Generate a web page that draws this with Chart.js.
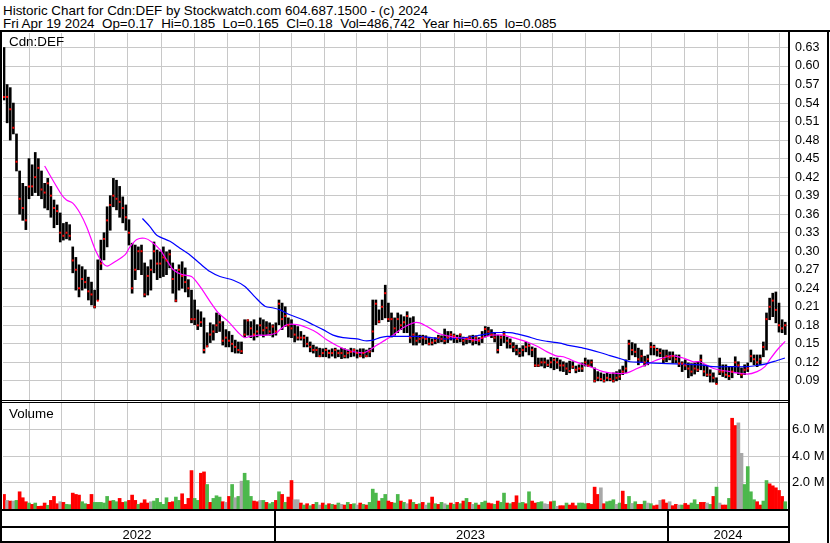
<!DOCTYPE html>
<html>
<head>
<meta charset="utf-8">
<script src="https://cdn.jsdelivr.net/npm/chart.js@4.4.1/dist/chart.umd.min.js"></script>
<style>
  body { margin: 0; background: #fff; font-family: "Liberation Sans", Arial, sans-serif; }
  #wrap { position: relative; width: 830px; height: 543px; overflow: hidden; background: #fff; }
  .ln { position: absolute; background: #000; }
  .txt { position: absolute; white-space: pre; color: #000; font-size: 13.4px; line-height: 13px; }
  .box { position: absolute; left: 0; width: 829px; }
</style>
</head>
<body>
<div id="wrap">
  <div class="txt" style="left:3px; top:4px;">Historic Chart for Cdn:DEF by Stockwatch.com 604.687.1500 - (c) 2024
Fri Apr 19 2024  Op=0.17  Hi=0.185  Lo=0.165  Cl=0.18  Vol=486,742  Year hi=0.65  lo=0.085</div>
  <div class="box" style="top:33px; height:367px;"><canvas id="priceChart"></canvas></div>
  <div class="box" style="top:403px; height:140px;"><canvas id="volChart"></canvas></div>
  <div class="txt" style="left:9px; top:35px; line-height:14px;">Cdn:DEF</div>
  <div class="txt" style="left:9px; top:407px; line-height:14px;">Volume</div>
  <div class="ln" style="left:0; top:30px; width:830px; height:2px;"></div>
  <div class="ln" style="left:0; top:30px; width:2px; height:513px;"></div>
  <div class="ln" style="left:788px; top:30px; width:2px; height:513px;"></div>
  <div class="ln" style="left:827px; top:30px; width:2px; height:513px;"></div>
  <div class="ln" style="left:0; top:400px; width:790px; height:1px;"></div>
  <div class="ln" style="left:0; top:402px; width:790px; height:1px;"></div>
</div>
<script>
// daily bars, sampled every other session, oldest first (Apr 2022 -> Apr 19 2024)
const priceHigh = [
  0.63,0.57,0.565,0.54,0.49,0.43,0.41,0.405,0.45,0.44,
  0.46,0.45,0.43,0.41,0.418,0.405,0.383,0.375,0.362,0.345,
  0.347,0.343,0.307,0.29,0.278,0.275,0.27,0.258,0.25,0.237,
  0.286,0.318,0.33,0.372,0.39,0.418,0.415,0.405,0.388,0.375,
  0.351,0.313,0.31,0.307,0.31,0.281,0.275,0.286,0.315,0.302,
  0.299,0.307,0.299,0.302,0.281,0.27,0.278,0.283,0.273,0.254,
  0.237,0.221,0.205,0.202,0.192,0.168,0.184,0.181,0.20,0.197,
  0.186,0.173,0.17,0.164,0.156,0.153,0.153,0.189,0.189,0.186,
  0.189,0.181,0.192,0.189,0.186,0.184,0.181,0.184,0.221,0.216,
  0.21,0.192,0.189,0.181,0.178,0.17,0.164,0.161,0.153,0.148,
  0.145,0.143,0.142,0.143,0.14,0.142,0.143,0.14,0.143,0.142,
  0.14,0.143,0.142,0.14,0.142,0.142,0.14,0.143,0.221,0.221,
  0.205,0.221,0.245,0.216,0.20,0.192,0.20,0.197,0.194,0.202,
  0.192,0.194,0.168,0.164,0.164,0.163,0.16,0.158,0.16,0.164,
  0.163,0.174,0.17,0.17,0.166,0.164,0.166,0.161,0.16,0.163,
  0.164,0.163,0.16,0.17,0.178,0.177,0.173,0.168,0.164,0.163,
  0.17,0.161,0.158,0.152,0.148,0.143,0.147,0.153,0.15,0.145,
  0.143,0.127,0.127,0.127,0.124,0.128,0.127,0.127,0.124,0.121,
  0.119,0.122,0.121,0.114,0.116,0.119,0.127,0.124,0.124,0.111,
  0.105,0.103,0.101,0.103,0.101,0.103,0.105,0.108,0.114,0.124,
  0.156,0.152,0.15,0.143,0.14,0.13,0.132,0.152,0.148,0.143,
  0.142,0.14,0.14,0.137,0.137,0.132,0.132,0.121,0.124,0.119,
  0.118,0.119,0.121,0.132,0.116,0.114,0.108,0.103,0.095,0.127,
  0.116,0.116,0.113,0.113,0.129,0.121,0.111,0.116,0.119,0.14,
  0.132,0.132,0.132,0.153,0.20,0.224,0.232,0.234,0.216,0.189,
  0.185
];
const priceLow = [
  0.545,0.508,0.48,0.49,0.43,0.36,0.35,0.335,0.385,0.39,
  0.395,0.39,0.385,0.37,0.367,0.355,0.338,0.343,0.315,0.318,
  0.32,0.318,0.265,0.237,0.226,0.237,0.24,0.221,0.213,0.208,
  0.221,0.27,0.286,0.307,0.334,0.372,0.367,0.355,0.346,0.334,
  0.31,0.232,0.254,0.27,0.262,0.226,0.229,0.237,0.265,0.254,
  0.257,0.259,0.262,0.273,0.232,0.218,0.237,0.24,0.234,0.226,
  0.184,0.181,0.173,0.178,0.135,0.145,0.152,0.156,0.168,0.17,
  0.148,0.145,0.145,0.137,0.135,0.135,0.134,0.161,0.164,0.16,
  0.156,0.161,0.164,0.161,0.164,0.164,0.161,0.164,0.181,0.173,
  0.178,0.161,0.16,0.153,0.156,0.156,0.145,0.145,0.137,0.135,
  0.129,0.129,0.129,0.129,0.127,0.13,0.127,0.129,0.126,0.127,
  0.127,0.129,0.13,0.127,0.129,0.127,0.129,0.129,0.137,0.181,
  0.184,0.189,0.192,0.186,0.161,0.164,0.168,0.173,0.168,0.168,
  0.152,0.148,0.148,0.152,0.148,0.15,0.148,0.148,0.15,0.152,
  0.153,0.15,0.152,0.156,0.152,0.152,0.153,0.148,0.15,0.152,
  0.148,0.15,0.148,0.152,0.161,0.163,0.16,0.153,0.135,0.147,
  0.152,0.143,0.143,0.137,0.132,0.129,0.13,0.137,0.132,0.129,
  0.113,0.113,0.114,0.111,0.113,0.111,0.108,0.11,0.106,0.105,
  0.10,0.103,0.11,0.103,0.105,0.105,0.114,0.113,0.113,0.088,
  0.09,0.09,0.088,0.09,0.09,0.088,0.09,0.092,0.10,0.103,
  0.124,0.132,0.129,0.116,0.121,0.114,0.116,0.132,0.132,0.13,
  0.129,0.119,0.121,0.124,0.119,0.119,0.113,0.105,0.108,0.095,
  0.098,0.101,0.105,0.108,0.098,0.097,0.088,0.088,0.085,0.10,
  0.097,0.095,0.092,0.095,0.103,0.10,0.095,0.10,0.105,0.121,
  0.116,0.113,0.116,0.129,0.14,0.189,0.194,0.184,0.169,0.168,
  0.165
];
const priceClose = [
  0.55,0.55,0.53,0.50,0.445,0.385,0.37,0.35,0.405,0.405,
  0.42,0.435,0.40,0.395,0.41,0.39,0.37,0.365,0.33,0.325,
  0.33,0.325,0.285,0.27,0.24,0.255,0.25,0.235,0.23,0.21,
  0.22,0.28,0.32,0.35,0.375,0.39,0.385,0.38,0.37,0.355,
  0.33,0.24,0.27,0.30,0.30,0.23,0.26,0.27,0.30,0.28,
  0.28,0.29,0.285,0.295,0.255,0.22,0.27,0.26,0.25,0.24,
  0.19,0.19,0.18,0.185,0.14,0.146,0.165,0.17,0.18,0.185,
  0.155,0.16,0.155,0.15,0.145,0.14,0.138,0.165,0.188,0.175,
  0.165,0.17,0.18,0.172,0.176,0.17,0.178,0.17,0.215,0.19,
  0.195,0.18,0.175,0.165,0.16,0.16,0.16,0.15,0.145,0.14,
  0.14,0.13,0.135,0.14,0.135,0.135,0.14,0.135,0.135,0.13,
  0.135,0.137,0.14,0.135,0.13,0.135,0.13,0.137,0.17,0.215,
  0.186,0.21,0.232,0.19,0.19,0.175,0.19,0.18,0.185,0.195,
  0.16,0.165,0.155,0.158,0.16,0.158,0.15,0.152,0.155,0.16,
  0.158,0.155,0.16,0.165,0.163,0.158,0.165,0.155,0.158,0.16,
  0.155,0.16,0.155,0.16,0.174,0.17,0.165,0.16,0.14,0.16,
  0.165,0.155,0.15,0.145,0.14,0.135,0.14,0.145,0.147,0.14,
  0.115,0.115,0.12,0.12,0.116,0.12,0.124,0.12,0.115,0.115,
  0.11,0.106,0.113,0.108,0.11,0.11,0.12,0.115,0.12,0.09,
  0.095,0.093,0.09,0.095,0.093,0.09,0.095,0.097,0.105,0.11,
  0.15,0.14,0.137,0.125,0.13,0.12,0.125,0.145,0.145,0.14,
  0.135,0.125,0.13,0.128,0.13,0.125,0.118,0.118,0.115,0.11,
  0.105,0.11,0.108,0.124,0.105,0.10,0.10,0.095,0.085,0.105,
  0.105,0.10,0.098,0.105,0.12,0.115,0.10,0.108,0.11,0.13,
  0.125,0.12,0.125,0.145,0.19,0.21,0.22,0.205,0.18,0.175,
  0.18
];
// volume in millions of shares; direction: 1 up, -1 down, 0 unchanged
const volume = [
  1.1,0.65,0.6,0.6,0.65,1.3,0.85,0.55,0.45,0.35,
  0.45,0.2,0.22,0.45,0.28,0.65,0.95,0.4,0.55,0.5,
  0.35,0.33,1.2,1.1,1.05,0.55,0.4,0.35,1.1,0.5,
  0.5,0.5,0.45,0.95,0.6,0.65,0.55,0.8,0.5,0.55,
  0.65,1.05,0.65,0.35,0.45,0.7,0.45,0.55,0.6,0.8,
  0.5,0.35,0.85,0.5,0.55,0.9,0.65,1.15,0.35,0.8,
  2.9,0.8,0.65,2.7,2.8,1.85,0.5,0.8,1.0,0.9,
  0.55,0.5,0.95,1.85,0.85,0.95,2.1,2.7,2.15,0.95,
  0.6,0.55,0.65,0.65,0.5,0.4,0.5,0.65,1.3,1.1,
  0.5,0.9,2.15,0.7,0.7,0.45,0.3,0.4,0.25,0.35,
  0.5,0.3,0.45,0.3,0.4,0.35,0.3,0.45,0.35,0.3,
  0.5,0.35,0.4,0.3,0.45,0.35,0.3,0.5,1.5,1.2,
  0.6,0.8,1.1,0.6,0.5,0.45,1.1,0.6,0.5,0.4,
  0.7,0.5,0.35,0.4,0.5,0.3,0.45,0.9,0.4,0.35,
  0.5,0.4,0.3,0.45,0.35,0.5,0.4,0.6,0.8,0.5,
  0.35,0.45,0.3,0.5,0.6,0.45,0.4,0.35,0.6,0.5,
  1.2,0.45,0.4,0.5,1.0,0.45,0.5,0.4,1.3,0.6,
  0.45,0.5,0.55,0.4,0.35,0.55,0.6,0.2,0.25,0.25,
  0.45,0.3,0.45,0.25,0.45,0.45,0.4,0.42,0.35,1.65,
  1.1,1.6,0.4,0.55,0.6,0.7,0.35,0.45,1.35,0.35,
  0.95,0.42,0.55,0.35,0.35,0.6,0.45,0.4,0.25,0.3,
  0.65,0.7,0.45,0.55,0.25,0.35,0.3,0.3,0.42,0.3,
  0.45,0.7,0.35,0.5,0.5,0.45,0.35,0.95,1.65,0.45,
  0.3,0.3,0.8,6.85,6.3,6.5,4.2,1.85,3.2,1.3,
  0.7,0.55,0.3,0.6,2.15,1.9,1.75,1.6,1.4,0.95,
  0.55
];
const volDir = [
  -1,0,-1,0,1,-1,-1,-1,1,-1,
  1,-1,-1,-1,1,-1,-1,-1,0,-1,
  1,1,-1,-1,-1,1,1,-1,-1,1,
  1,1,1,1,-1,1,1,-1,-1,1,
  -1,-1,-1,1,-1,-1,-1,0,1,1,
  1,1,1,-1,-1,1,1,-1,-1,-1,
  -1,1,1,-1,-1,1,-1,1,1,1,
  -1,0,-1,1,0,1,0,1,1,1,
  -1,-1,0,1,-1,1,1,-1,1,-1,
  1,-1,-1,0,0,-1,1,-1,1,-1,
  1,0,-1,1,-1,1,-1,1,0,-1,
  1,-1,1,0,-1,1,-1,1,1,1,
  -1,1,1,-1,-1,1,1,-1,1,0,
  -1,1,-1,1,-1,0,1,-1,1,-1,
  1,0,1,-1,1,-1,1,-1,1,-1,
  0,1,-1,1,1,-1,-1,1,-1,1,
  1,-1,1,-1,-1,1,1,-1,1,-1,
  -1,1,1,0,0,-1,1,0,-1,-1,
  1,-1,-1,-1,1,1,1,-1,-1,-1,
  -1,0,-1,1,1,1,0,1,-1,-1,
  1,0,1,-1,-1,1,0,1,-1,-1,
  0,-1,-1,0,-1,-1,0,1,-1,-1,
  1,1,1,-1,-1,0,1,-1,1,0,
  -1,-1,1,-1,-1,0,0,1,1,1,
  1,-1,-1,1,1,-1,-1,-1,-1,-1,
  1
];
// moving averages (bar position, price)
const maShortPos = [13,18.5,20,22,24.3,26.5,29,31.3,33,35.5,38.7,40.3,42.5,45,47.3,50,52,54.2,57,60,
  62.7,66,68.6,71.8,75,77,78.7,81.4,84,87.3,88.3,90.6,93.8,97,100.2,103.4,106.6,109.8,113,115.5,
  117,119.4,122,124.5,127.7,131,133,135.4,138.6,141.8,145,148.2,151.4,153.3,156.2,159.7,164.2,167.4,170.6,173.8,
  177,179,183.4,187.5,191.7,196.2,199.4,202.6,205.8,209,212.2,214,217.3,220.5,222.7,227,232.3,237.8,241,243.5,
  245,247.4,250];
const maShortVal = [0.438,0.391,0.383,0.378,0.362,0.339,0.305,0.283,0.276,0.283,0.294,0.307,0.319,0.321,0.315,0.302,0.286,0.27,0.262,0.259,
  0.243,0.218,0.20,0.186,0.168,0.16,0.162,0.164,0.164,0.168,0.173,0.181,0.181,0.176,0.168,0.156,0.147,0.14,0.136,0.136,
  0.14,0.148,0.156,0.164,0.176,0.184,0.184,0.178,0.168,0.163,0.16,0.158,0.156,0.16,0.164,0.164,0.158,0.153,0.146,0.137,
  0.13,0.129,0.12,0.113,0.105,0.102,0.103,0.11,0.117,0.124,0.129,0.131,0.127,0.121,0.121,0.11,0.105,0.101,0.105,0.113,
  0.124,0.14,0.154];
const maLongPos = [44.3,46.7,48.9,53.1,56.3,59.5,62.7,65.9,69.1,73.4,77.1,80.3,83.5,86.2,88.3,91.5,95.7,98.9,102.1,105.3,
  108.5,113,115.5,118.1,120.3,122.6,127.7,132.2,135.4,140.5,145.9,151.4,154.6,156.5,161.9,164.2,167.4,170.6,173.8,177.9,
  180.2,185.3,190.7,193.9,197.8,200.3,204.2,206.7,212.2,217.3,222.7,226.9,232.3,237.8,241,244.2,247.4,249.9];
const maLongVal = [0.353,0.34,0.326,0.316,0.305,0.294,0.28,0.267,0.259,0.253,0.243,0.226,0.211,0.208,0.205,0.197,0.189,0.181,0.173,0.164,
  0.16,0.158,0.155,0.156,0.16,0.162,0.162,0.162,0.161,0.158,0.159,0.163,0.166,0.168,0.168,0.166,0.162,0.157,0.154,0.151,
  0.148,0.143,0.136,0.131,0.125,0.121,0.12,0.119,0.118,0.117,0.116,0.113,0.113,0.113,0.115,0.118,0.123,0.127];

const priceTicks = [0.09,0.12,0.15,0.18,0.21,0.24,0.27,0.30,0.33,0.36,0.39,0.42,0.45,0.48,0.51,0.54,0.57,0.60,0.63];
const volTicks = [2,4,6];
// first session of each month, as bar positions
const monthStarts = [2.6,13.4,23.7,34.2,44.8,55.7,66.2,76.8,86.4,97.6,107.5,117.8,127.7,138.9,149.1,159.7,170.9,180.2,191.7,201.9,212.2,223.4,233.3,243.2];
const yearLabels = ['2022','2023','2024'];
const yearBreaks = [86.4, 212.2];

const xMin = -0.32, xMax = 251.2;

const gridColor = '#c8c8c8';

function monthGrid(scale) {
    scale.ticks = monthStarts.map(v => ({ value: v }));
}
function noPad(scale) {
    scale.paddingTop = 0; scale.paddingBottom = 0;
    scale.paddingLeft = 0; scale.paddingRight = 0;
}

const hiLo = priceHigh.map((h, i) => ({ x: i, y: [priceLow[i], h] }));
const closes = priceClose.map((c, i) => ({ x: i, y: c }));
const shortMA = maShortPos.map((x, k) => ({ x: x, y: maShortVal[k] }));
const longMA = maLongPos.map((x, k) => ({ x: x, y: maLongVal[k] }));

new Chart(document.getElementById('priceChart'), {
    type: 'bar',
    data: {
        datasets: [
            { type: 'line', data: closes, showLine: false, pointStyle: 'rect', pointRadius: 1.4,
              pointBackgroundColor: '#ff0000', pointBorderWidth: 0, order: 0 },
            { type: 'line', data: longMA, borderColor: '#0000ff', borderWidth: 1.2, pointRadius: 0, tension: 0.3, order: 1 },
            { type: 'line', data: shortMA, borderColor: '#ff00ff', borderWidth: 1.2, pointRadius: 0, tension: 0.3, order: 2 },
            { type: 'bar', data: hiLo, backgroundColor: '#000', barThickness: 2, order: 3 }
        ]
    },
    options: {
        animation: false,
        responsive: true,
        maintainAspectRatio: false,
        layout: { autoPadding: false, padding: { left: 3, right: 0, top: 0, bottom: 0 } },
        plugins: { legend: { display: false }, tooltip: { enabled: false } },
        scales: {
            x: {
                type: 'linear', min: xMin, max: xMax, offset: false,
                afterBuildTicks: monthGrid,
                ticks: { display: false },
                grid: { color: gridColor, drawTicks: false },
                border: { display: false },
                afterFit: s => { s.height = 0; noPad(s); }
            },
            y: {
                position: 'right', min: 0.059, max: 0.6535,
                afterBuildTicks: s => { s.ticks = priceTicks.map(v => ({ value: v })); },
                ticks: { color: '#000', font: { family: '"Liberation Sans", Arial', size: 12.5 }, padding: 6,
                         autoSkip: false, callback: v => v.toFixed(2) },
                grid: { color: gridColor, drawTicks: false },
                border: { display: false },
                afterFit: s => { s.width = 40; noPad(s); }
            }
        }
    }
});

// year strip under the volume panel
const dateAxis = {
    id: 'dateAxis',
    afterDraw(chart) {
        const ctx = chart.ctx;
        const x = chart.scales.x;
        const bottom = chart.chartArea.bottom;
        const right = chart.chartArea.right;
        ctx.save();
        ctx.fillStyle = '#000';
        ctx.fillRect(0, bottom, right, 2);
        ctx.fillRect(0, bottom + 17, right, 2);
        ctx.fillRect(0, bottom + 32, right, 2);
        const edges = [0].concat(yearBreaks.map(v => Math.round(x.getPixelForValue(v)))).concat([right]);
        yearBreaks.forEach(v => {
            ctx.fillRect(Math.round(x.getPixelForValue(v)), bottom, 2, 33);
        });
        ctx.font = '13px "Liberation Sans", Arial';
        ctx.textAlign = 'center';
        ctx.textBaseline = 'alphabetic';
        yearLabels.forEach((lab, k) => {
            ctx.fillText(lab, (edges[k] + edges[k + 1]) / 2, bottom + 30);
        });
        ctx.restore();
    }
};

const volColors = volDir.map(d => d > 0 ? '#4cb84c' : (d < 0 ? '#ff0000' : '#a8a8a8'));

new Chart(document.getElementById('volChart'), {
    type: 'bar',
    data: {
        datasets: [{
            data: volume.map((v, i) => ({ x: i, y: v })),
            backgroundColor: volColors,
            barThickness: 3
        }]
    },
    plugins: [dateAxis],
    options: {
        animation: false,
        responsive: true,
        maintainAspectRatio: false,
        layout: { autoPadding: false, padding: { left: 3, right: 0, top: 0, bottom: 34 } },
        plugins: { legend: { display: false }, tooltip: { enabled: false } },
        scales: {
            x: {
                type: 'linear', min: xMin, max: xMax, offset: false,
                afterBuildTicks: monthGrid,
                ticks: { display: false },
                grid: { color: gridColor, drawTicks: false },
                border: { display: false },
                afterFit: s => { s.height = 0; noPad(s); }
            },
            y: {
                position: 'right', min: 0, max: 8,
                afterBuildTicks: s => { s.ticks = volTicks.map(v => ({ value: v })); },
                ticks: { color: '#000', font: { family: '"Liberation Sans", Arial', size: 13 }, padding: 3,
                         autoSkip: false, callback: v => v.toFixed(1) + ' M' },
                grid: { color: gridColor, drawTicks: false },
                border: { display: false },
                afterFit: s => { s.width = 40; noPad(s); }
            }
        }
    }
});
</script>
</body>
</html>
